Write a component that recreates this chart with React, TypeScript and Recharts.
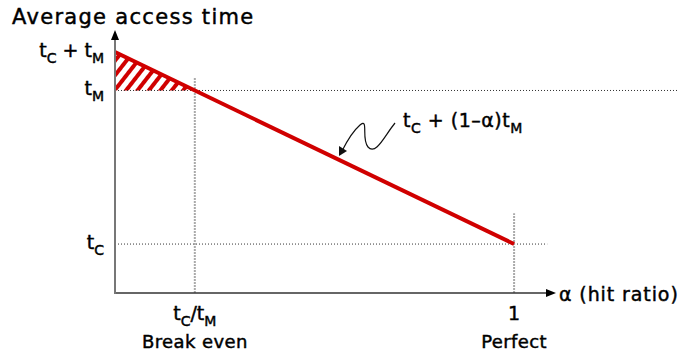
import React from 'react';
import { ComposedChart, Line, Area, XAxis, YAxis, ReferenceLine } from 'recharts';

// Cache model: average access time = tC + (1 - α) tM
const cacheTime = 0.2; // tC
const memoryTime = 1.0; // tM
const breakEven = 0.2; // α = tC / tM

// Endpoints of the access-time line (α = 0 and α = 1)
const accessTime = [
  { alpha: 0, time: 1.2 },
  { alpha: 1, time: 0.2 },
];

// Region where the cache makes things slower (above tM, left of break even)
const lossRegion = [
  { alpha: 0, band: [1.0, 1.2] },
  { alpha: 0.2, band: [1.0, 1.0] },
];

// Y tick labels as [text, isSubscript] segments
const yTickValues = [0.2, 1.0, 1.2];
const yTickLabels: Record<string, [string, boolean][]> = {
  '0.2': [['t', false], ['C', true]],
  '1': [['t', false], ['M', true]],
  '1.2': [['t', false], ['C', true], [' + t', false], ['M', true]],
};

const xTickValues = [0.2, 1];
const xTickLabels: Record<string, { top: [string, boolean][]; bottom: string }> = {
  '0.2': { top: [['t', false], ['C', true], ['/t', false], ['M', true]], bottom: 'Break even' },
  '1': { top: [['1', false]], bottom: 'Perfect' },
};

const formulaLabel: [string, boolean][] = [['t', false], ['C', true], [' + (1\u2013\u03b1)t', false], ['M', true]];

const yDomain: [number, number] = [-0.055, 1.315];
const xDomain: [number, number] = [0, 1.105];

const FONT = '"DejaVu Sans", sans-serif';
const RED = '#d00000';
const INK = '#000';

// Slight outline to give the book weight a little more body
const textStyle = { stroke: INK, strokeWidth: 0.45 } as const;

function Rich({ parts, size, sub }: { parts: [string, boolean][]; size: number; sub: number }) {
  let shifted = false;
  return (
    <>
      {parts.map(([t, isSub], i) => {
        let dy = 0;
        if (isSub && !shifted) { dy = 6; shifted = true; }
        else if (!isSub && shifted) { dy = -6; shifted = false; }
        return (
          <tspan key={i} dy={dy} fontSize={isSub ? sub : size}>
            {t}
          </tspan>
        );
      })}
    </>
  );
}

const YTick = (props: any) => {
  const { y, payload } = props;
  const parts = yTickLabels[String(payload.value)];
  if (!parts) return null;
  return (
    <text x={104} y={y + 5} textAnchor="end" fontFamily={FONT} fontSize={19} fill={INK} {...textStyle}>
      <Rich parts={parts} size={19} sub={14} />
    </text>
  );
};

const XTick = (props: any) => {
  const { x, payload } = props;
  const lbl = xTickLabels[String(payload.value)];
  if (!lbl) return null;
  return (
    <g fontFamily={FONT} fill={INK}>
      <text x={x} y={320} textAnchor="middle" fontSize={19} {...textStyle}>
        <Rich parts={lbl.top} size={19} sub={14} />
      </text>
      <text x={x} y={348} textAnchor="middle" fontSize={18} letterSpacing={0.4} {...textStyle}>
        {lbl.bottom}
      </text>
    </g>
  );
};

const XAxisArrow = (p: any) => {
  const x1 = Math.min(p.x1, p.x2);
  const x2 = Math.max(p.x1, p.x2);
  const y = p.y1;
  return (
    <g>
      <line x1={x1} y1={y} x2={x2 - 8} y2={y} stroke="#333" strokeWidth={1.6} />
      <polygon points={`${x2},${y} ${x2 - 10},${y - 4} ${x2 - 10},${y + 4}`} fill="#000" />
    </g>
  );
};

const YAxisArrow = (p: any) => {
  const x = p.x1;
  const top = Math.min(p.y1, p.y2);
  const bottom = Math.max(p.y1, p.y2);
  return (
    <g>
      <line x1={x} y1={bottom + 1} x2={x} y2={top + 8} stroke="#777" strokeWidth={2} />
      <polygon points={`${x},${top} ${x - 4},${top + 10} ${x + 4},${top + 10}`} fill="#000" />
    </g>
  );
};

export default function App() {
  return (
    <div style={{ position: 'absolute', left: 0, top: 0, width: 680, height: 353, background: '#fff' }}>
      <ComposedChart
        width={680}
        height={353}
        margin={{ top: 30, right: 124, bottom: 0, left: 0 }}
        style={{ fontFamily: FONT }}
      >
        <defs>
          <pattern id="hatch" width="9" height="9" patternUnits="userSpaceOnUse" patternTransform="rotate(38)">
            <rect x="0" y="0" width="4" height="9" fill={RED} />
          </pattern>
        </defs>
        <XAxis
          type="number"
          dataKey="alpha"
          domain={xDomain}
          ticks={xTickValues}
          axisLine={false}
          tickLine={false}
          height={60}
          tick={<XTick />}
          allowDataOverflow
        />
        <YAxis
          type="number"
          domain={yDomain}
          ticks={yTickValues}
          axisLine={false}
          tickLine={false}
          width={115}
          tick={<YTick />}
          allowDataOverflow
        />

        {/* guide lines */}
        <ReferenceLine
          segment={[{ x: 0, y: memoryTime }, { x: 1.41, y: memoryTime }]}
          stroke="#333"
          strokeWidth={1}
          strokeDasharray="1 2"
          ifOverflow="visible"
        />
        <ReferenceLine
          segment={[{ x: 0, y: cacheTime }, { x: 1.083, y: cacheTime }]}
          stroke="#333"
          strokeWidth={1}
          strokeDasharray="1 2"
          ifOverflow="visible"
        />
        <ReferenceLine
          segment={[{ x: breakEven, y: yDomain[0] }, { x: breakEven, y: 1.07 }]}
          stroke="#aaa"
          strokeWidth={2}
          strokeDasharray="2 1"
          ifOverflow="visible"
        />
        <ReferenceLine
          segment={[{ x: 1, y: yDomain[0] }, { x: 1, y: 0.36 }]}
          stroke="#aaa"
          strokeWidth={2}
          strokeDasharray="2 1"
          ifOverflow="visible"
        />

        <Area
          data={lossRegion}
          dataKey="band"
          type="linear"
          stroke="none"
          fill="url(#hatch)"
          fillOpacity={1}
          isAnimationActive={false}
        />
        <Line
          data={accessTime}
          dataKey="time"
          type="linear"
          stroke={RED}
          strokeWidth={4}
          dot={false}
          isAnimationActive={false}
        />

        {/* axes with arrowheads */}
        <ReferenceLine y={yDomain[0]} shape={<XAxisArrow />} ifOverflow="visible" />
        <ReferenceLine x={0} shape={<YAxisArrow />} ifOverflow="visible" />

        {/* titles and annotation */}
        <text x={12} y={24} fontFamily={FONT} fontSize={21} letterSpacing={1.3} fill={INK} {...textStyle}>
          Average access time
        </text>
        <text x={559} y={301} fontFamily={FONT} fontSize={19} letterSpacing={0.9} fill={INK} {...textStyle}>
          {'\u03b1 (hit ratio)'}
        </text>
        <text x={403} y={127} fontFamily={FONT} fontSize={19} letterSpacing={0.5} fill={INK} {...textStyle}>
          <Rich parts={formulaLabel} size={19} sub={14} />
        </text>
        <path
          d="M395,123 C385,135 376,156 368,147 C361,139 369,117 360,125 C352,132 346,143 342,151"
          fill="none"
          stroke="#111"
          strokeWidth={1.2}
        />
        <polygon points="339,156 339,146 347,151" fill="#111" />
      </ComposedChart>
    </div>
  );
}
